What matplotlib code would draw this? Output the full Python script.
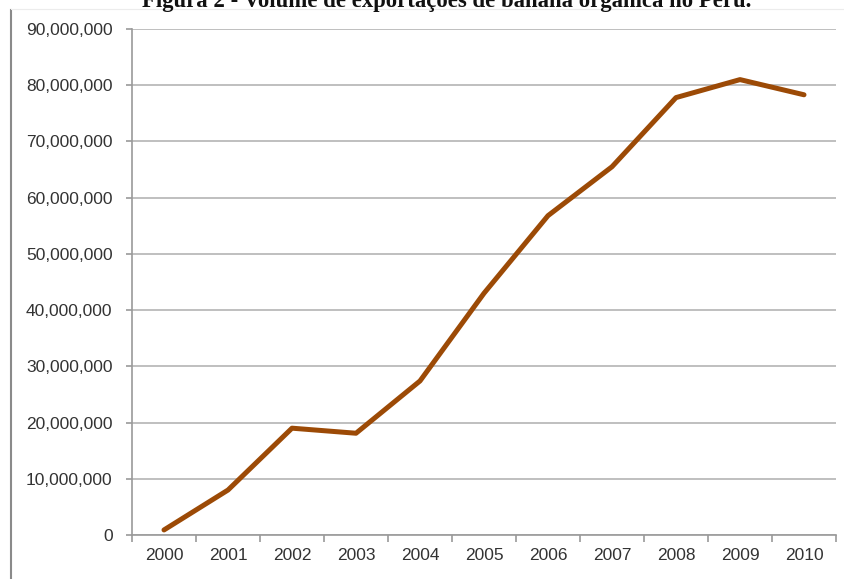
import matplotlib
matplotlib.use("Agg")
import matplotlib.pyplot as plt
from matplotlib.lines import Line2D
from matplotlib.ticker import FuncFormatter, MultipleLocator

# data
years = ["2000", "2001", "2002", "2003", "2004", "2005", "2006", "2007", "2008", "2009", "2010"]
volume = [900000, 8000000, 19000000, 18100000, 27400000, 43000000,
          56800000, 65500000, 77800000, 81000000, 78300000]
title = "Figura 2 - Volume de exportações de banana orgânica no Peru."

fig = plt.figure(figsize=(8.44, 5.79), dpi=100)
ax = fig.add_axes([132 / 844, 1 - 535 / 579, (836 - 132) / 844, (535 - 29) / 579])

x = list(range(len(years)))
ax.plot(x, volume, color="#9c4a06", linewidth=3.6, solid_capstyle="round", solid_joinstyle="round")

ax.set_xlim(-0.5, len(years) - 0.5)
ax.set_ylim(0, 90000000)
ax.yaxis.set_major_locator(MultipleLocator(10000000))
ax.yaxis.set_major_formatter(FuncFormatter(lambda v, p: f"{int(v):,}"))
ax.set_xticks(x)
ax.set_xticklabels(years)
ax.set_xticks([i - 0.5 for i in range(len(years) + 1)], minor=True)

ax.grid(axis="y", color="#b4b4b4", linewidth=1.2)
ax.set_axisbelow(True)
for s in ["top", "right"]:
    ax.spines[s].set_visible(False)
for s in ["left", "bottom"]:
    ax.spines[s].set_color("#9a9a9a")
    ax.spines[s].set_linewidth(1.2)

ax.tick_params(axis="y", length=4, color="#9a9a9a", width=1.2, labelsize=12.5,
               labelcolor="#333333", pad=10)
ax.tick_params(axis="x", which="major", length=0, labelsize=12.5, labelcolor="#333333", pad=9)
ax.tick_params(axis="x", which="minor", length=5, color="#9a9a9a", width=1.2)
for lab in ax.get_xticklabels() + ax.get_yticklabels():
    lab.set_family("Liberation Sans")

# title is cut off at the top edge in the original
fig.text(447 / 844, 1 - 6.5 / 579, title, ha="center", va="baseline",
         fontsize=16.4, fontweight="bold", family="Liberation Serif", color="#111111")

# frame of the original picture
fig.add_artist(Line2D([11 / 844, 11 / 844], [0, 1 - 10 / 579], transform=fig.transFigure,
                      color="#8a8a8a", linewidth=1.5))
fig.add_artist(Line2D([11 / 844, 1], [1 - 9 / 579, 1 - 9 / 579], transform=fig.transFigure,
                      color="#ececec", linewidth=0.8))

fig.savefig("out.png", dpi=100)
